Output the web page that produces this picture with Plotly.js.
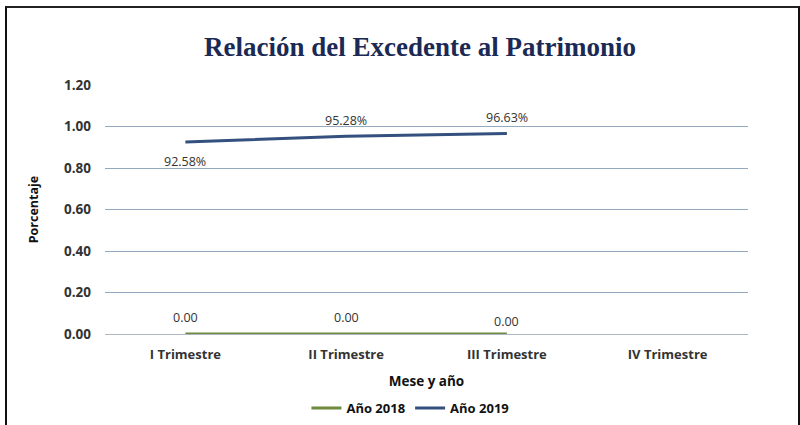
<!DOCTYPE html>
<html>
<head>
<meta charset="utf-8">
<script src="https://cdn.plot.ly/plotly-3.0.1.min.js"></script>
<style>
  html, body { margin: 0; padding: 0; background: #fff; }
  #wrap { position: relative; width: 800px; height: 425px; }
  #chart { width: 800px; height: 425px; }
  #frame { position: absolute; left: 5px; top: 6px; width: 791px; height: 430px;
           border-left: 2px solid #111; border-top: 2px solid #222; border-right: 2px solid #111;
           pointer-events: none; }
</style>
</head>
<body>
<div id="wrap">
  <div id="chart"></div>
  <div id="frame"></div>
</div>
<script>
const categories = ["I Trimestre", "II Trimestre", "III Trimestre", "IV Trimestre"];
const values2018 = [0.00, 0.00, 0.00];
const values2019 = [0.9258, 0.9528, 0.9663];
const labels2018 = ["0.00", "0.00", "0.00"];
const labels2019 = ["92.58%", "95.28%", "96.63%"];
const yTicks = [0, 0.2, 0.4, 0.6, 0.8, 1.0, 1.2];
const yTickText = ["0.00", "0.20", "0.40", "0.60", "0.80", "1.00", "1.20"];

const FONT = "Open Sans, Arial, sans-serif";

const traces = [
  {
    name: "Año 2018",
    x: categories.slice(0, values2018.length),
    y: values2018,
    mode: "lines",
    line: { color: "#6E8B3D", width: 3 },
    cliponaxis: false
  },
  {
    name: "Año 2019",
    x: categories.slice(0, values2019.length),
    y: values2019,
    mode: "lines",
    line: { color: "#34507F", width: 3 },
    cliponaxis: false
  }
];

// data labels, positioned from the series values
const label2019Shift = [-20, 16, 16];
const label2018Shift = [17, 17, 13];
const annotations = [];
values2019.forEach((v, i) => annotations.push({
  x: categories[i], y: v, xref: "x", yref: "y", text: labels2019[i],
  showarrow: false, yshift: label2019Shift[i],
  font: { family: FONT, size: 12.5, color: "#333" }
}));
values2018.forEach((v, i) => annotations.push({
  x: categories[i], y: v, xref: "x", yref: "y", text: labels2018[i],
  showarrow: false, yshift: label2018Shift[i],
  font: { family: FONT, size: 12.5, color: "#333" }
}));

const layout = {
  width: 800, height: 425,
  paper_bgcolor: "#fff", plot_bgcolor: "#fff",
  margin: { l: 105, r: 52, t: 85, b: 91, autoexpand: false },
  title: {
    text: "<b>Relación del Excedente al Patrimonio</b>",
    font: { family: "Liberation Serif, Times New Roman, serif", size: 27, color: "#1B2A55" },
    x: 0.525, xanchor: "center", y: 0.89, yanchor: "middle"
  },
  annotations: annotations,
  xaxis: {
    type: "category",
    categoryorder: "array", categoryarray: categories,
    range: [-0.5, 3.5],
    automargin: false,
    showgrid: false, zeroline: false, showline: false,
    ticks: "",
    ticklabelstandoff: 11,
    tickfont: { family: FONT, size: 13, color: "#333", weight: "bold" },
    title: { text: "<b>Mese y año</b>", font: { family: FONT, size: 13.5, color: "#111" }, standoff: 14 }
  },
  yaxis: {
    range: [0, 1.2],
    automargin: false,
    tickvals: yTicks, ticktext: yTickText,
    showgrid: true, gridcolor: "#93A9BE", gridwidth: 1,
    zeroline: true, zerolinecolor: "#AEB6BE", zerolinewidth: 1,
    showline: false, ticks: "",
    ticklabelstandoff: 13,
    tickfont: { family: FONT, size: 13.5, color: "#333", weight: "bold" },
    title: { text: "<b>Porcentaje</b>", font: { family: FONT, size: 12.5, color: "#111" }, standoff: 22 }
  },
  showlegend: true,
  legend: {
    orientation: "h", x: 0.475, xanchor: "center",
    yref: "container", y: 0.04, yanchor: "middle",
    font: { family: FONT, size: 13, color: "#111", weight: "bold" },
    tracegroupgap: 0
  }
};

Plotly.newPlot("chart", traces, layout, { displayModeBar: false, staticPlot: true });
</script>
</body>
</html>
